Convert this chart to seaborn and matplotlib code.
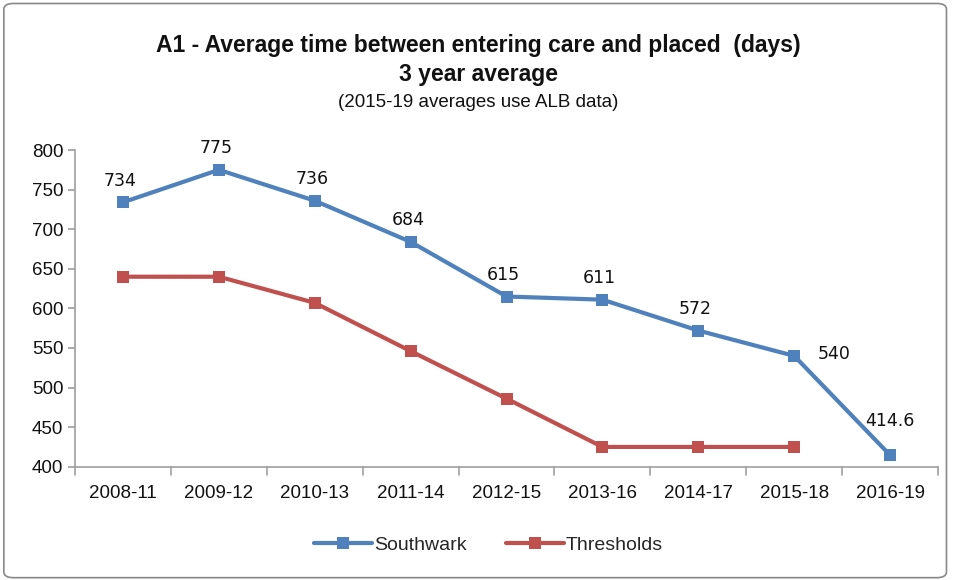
import pandas as pd
import matplotlib.pyplot as plt
import seaborn as sns
from matplotlib.patches import FancyBboxPatch

# Data
PERIODS = ['2008-11', '2009-12', '2010-13', '2011-14', '2012-15',
           '2013-16', '2014-17', '2015-18', '2016-19']
SOUTHWARK = [734, 775, 736, 684, 615, 611, 572, 540, 414.6]
THRESHOLDS = [640, 640, 607, 546, 486, 425, 425, 425, None]
LABELS = ['734', '775', '736', '684', '615', '611', '572', '540', '414.6']

BLUE = '#4f81bd'
RED = '#c0504d'
TXT = '#111111'

sns.set_theme(style='white')
plt.rcParams['font.family'] = ['Liberation Sans', 'DejaVu Sans']

df = pd.DataFrame({'period': PERIODS * 2,
                   'value': SOUTHWARK + THRESHOLDS,
                   'series': ['Southwark'] * len(PERIODS) + ['Thresholds'] * len(PERIODS)})
df = df.dropna()

fig = plt.figure(figsize=(9.57, 5.8), dpi=100)
ax = fig.add_axes([0.0784, 0.1953, 0.9018, 0.546])

sns.lineplot(data=df, x='period', y='value', hue='series', sort=False,
             palette={'Southwark': BLUE, 'Thresholds': RED},
             marker='s', markersize=9, markeredgewidth=0, linewidth=3, ax=ax)

# data labels on Southwark
for i, (v, lab) in enumerate(zip(SOUTHWARK, LABELS)):
    if lab == '540':
        off, ha, va = (17, 1), 'left', 'center'
    elif lab == '414.6':
        off, ha, va = (0, 18), 'center', 'bottom'
    else:
        off, ha, va = (-2, 9), 'center', 'bottom'
    ax.annotate(lab, (i, v), xytext=off, textcoords='offset points',
                ha=ha, va=va, fontsize=12.5, family='DejaVu Sans', color=TXT)

ax.set_ylim(400, 800)
ax.set_yticks(range(400, 801, 50))
ax.set_xlim(-0.5, len(PERIODS) - 0.5)
ax.set_xlabel('')
ax.set_ylabel('')
for s in ['top', 'right']:
    ax.spines[s].set_visible(False)
for s in ['left', 'bottom']:
    ax.spines[s].set_color('#a0a0a0')
    ax.spines[s].set_linewidth(1.2)
ax.tick_params(axis='both', which='both', length=5, color='#a0a0a0', labelsize=13.5,
               labelcolor=TXT, left=True, bottom=False)
ax.tick_params(axis='x', pad=8)
# category boundary ticks on x axis
for b in range(len(PERIODS) + 1):
    ax.plot([b - 0.5, b - 0.5], [0, -0.026], transform=ax.get_xaxis_transform(),
            color='#a0a0a0', lw=1.2, clip_on=False)

handles, labels = ax.get_legend_handles_labels()
ax.legend(handles, labels, loc='center', bbox_to_anchor=(0.479, -0.247),
          ncol=2, frameon=False, fontsize=14, handlelength=3, columnspacing=2,
          handletextpad=0.1)

fig.text(0.5, 0.922, 'A1 - Average time between entering care and placed  (days)',
         ha='center', va='center', fontsize=16.5, fontweight='bold', color=TXT)
fig.text(0.5, 0.872, '3 year average', ha='center', va='center', fontsize=16.5,
         fontweight='bold', color=TXT)
fig.text(0.5, 0.823, '(2015-19 averages use ALB data)', ha='center', va='center',
         fontsize=13.5, color=TXT)

border = FancyBboxPatch((0.004, 0.004), 0.985, 0.99, boxstyle='round,pad=0,rounding_size=0.01',
                        transform=fig.transFigure, fill=False, edgecolor='#888888', lw=1.2)
fig.patches.append(border)

fig.savefig('out.png', dpi=100)
